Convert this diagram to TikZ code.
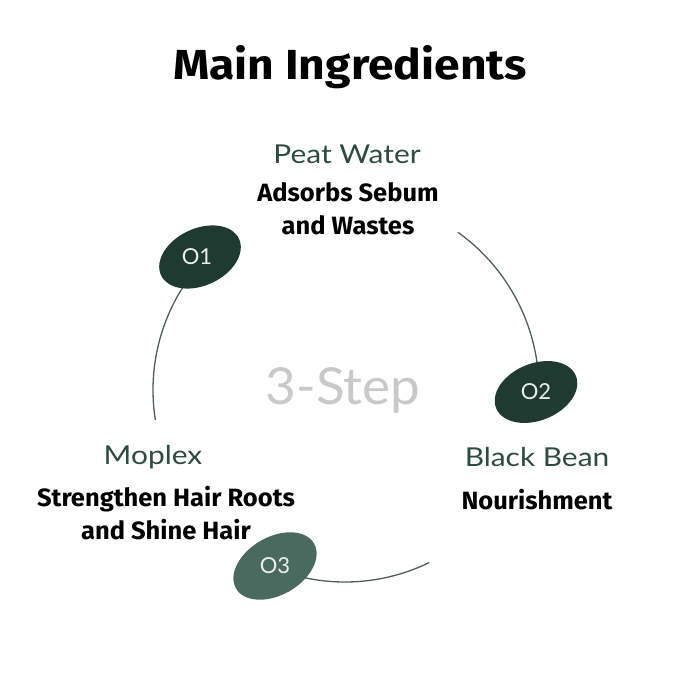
\documentclass[tikz,border=0pt]{standalone}
\usepackage{fontspec}
\setmainfont{Fira Sans}
\newfontfamily\titlefont[FakeStretch=1.1]{Fira Sans}
\newfontfamily\descfont[FakeStretch=1.02]{Fira Sans}
\newfontfamily\labfont[FakeStretch=1.15]{Lato}
\newfontfamily\stepfont[FakeStretch=1.04]{Lato}
\newfontfamily\dotfont{Lato}
\usetikzlibrary{shapes.geometric}
\definecolor{dgreen}{HTML}{1E3A31}
\definecolor{mgreen}{HTML}{4A6A5F}
\definecolor{labgreen}{HTML}{2E4A42}
\definecolor{arcgrey}{HTML}{4F5E58}
\definecolor{stepgrey}{HTML}{C9C9C9}
\begin{document}
\begin{tikzpicture}[x=1pt,y=1pt,
  dot/.style={ellipse, minimum width=86pt, minimum height=57pt, inner sep=0pt},
  dotlab/.style={font=\dotfont\fontsize{22}{22}\selectfont, text=white!92!dgreen},
  head/.style={font=\labfont\fontsize{26}{26}\selectfont, text=labgreen},
  desc/.style={font=\descfont\bfseries\fontsize{25}{33}\selectfont, text=black, align=center},
  arcline/.style={draw=arcgrey, line width=1.3pt}]
\useasboundingbox (0,0) rectangle (700,-700);
\fill[white] (0,0) rectangle (700,-700);
\node[font=\titlefont\bfseries\fontsize{42}{42}\selectfont] (title) at (350,-67) {Main Ingredients};
\coordinate (c) at (345,-390);
% arcs
\draw[arcline] (c) ++(147.5:192) arc (147.5:189:192);
\draw[arcline] (c) ++(54.4:194) arc (54.4:8.3:194);
\draw[arcline] (c) ++(258:192) arc (258:296:192);
% step ellipses
\node[dot, fill=dgreen, rotate=25] (s1) at (200,-257) {};
\node[dotlab] at ([xshift=-3pt]s1.center) {O1};
\node[dot, fill=dgreen, rotate=22] (s2) at (536,-392) {};
\node[dotlab] at (s2.center) {O2};
\node[dot, fill=mgreen, rotate=30, minimum width=90pt, minimum height=58pt] (s3) at (275,-566) {};
\node[dotlab] at (s3.center) {O3};
% center text
\node[font=\stepfont\fontsize{51}{51}\selectfont, text=stepgrey] (step) at (343,-390) {3-Step};
% labels
\node[head] (h1) at (347,-154) {Peat Water};
\node[desc] (d1) at (348,-209) {Adsorbs Sebum\\and Wastes};
\node[head] (h2) at (537,-457) {Black Bean};
\node[desc] (d2) at (537,-500) {Nourishment};
\node[head] (h3) at (153,-457) {Moplex};
\node[desc] (d3) at (166,-513) {Strengthen Hair Roots\\and Shine Hair};
\end{tikzpicture}
\end{document}
